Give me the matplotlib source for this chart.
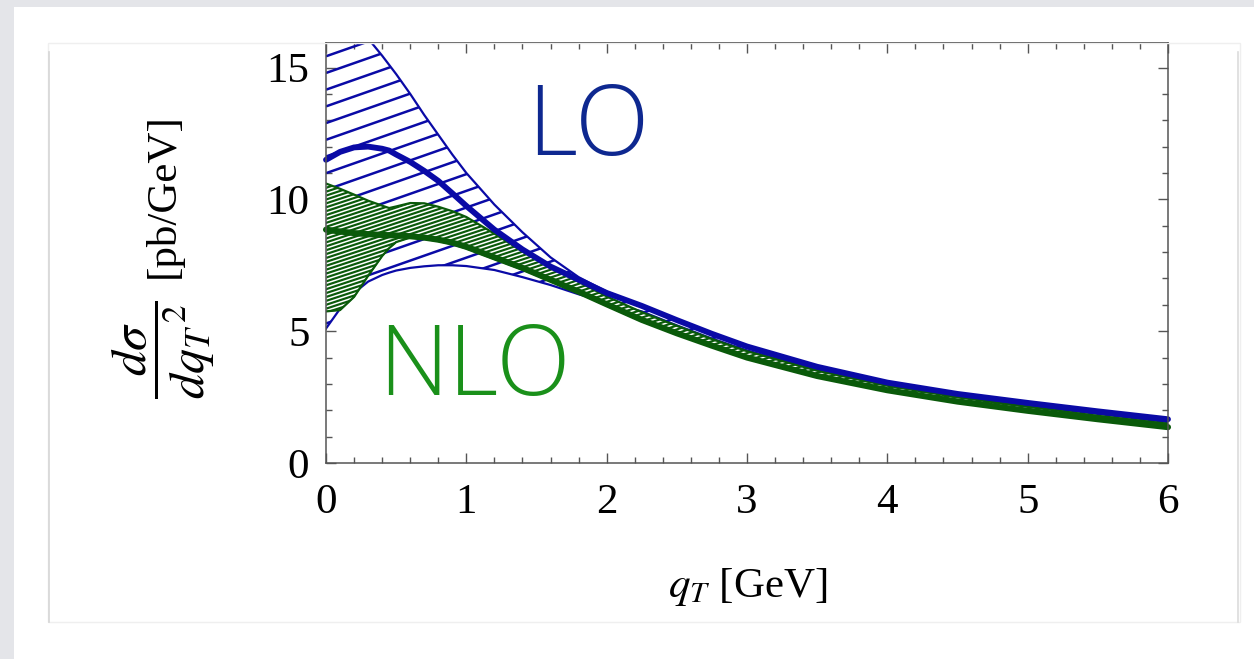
import numpy as np
import matplotlib
matplotlib.use("Agg")
import matplotlib.pyplot as plt
from matplotlib.patches import Polygon, Rectangle
from matplotlib.lines import Line2D
from matplotlib.collections import LineCollection
from matplotlib.ticker import MultipleLocator

# ---- data ----
qt = [0, 0.1, 0.2, 0.3, 0.4, 0.45, 0.5, 0.6, 0.7, 0.8, 0.9, 1.0, 1.2, 1.4,
      1.6, 1.8, 2.0, 2.25, 2.5, 2.75, 3.0, 3.5, 4.0, 4.5, 5.0, 5.5, 6.0]

lo_central = [11.5, 11.8, 11.97, 12.0, 11.92, 11.85, 11.7, 11.42, 11.08, 10.7,
              10.23, 9.75, 8.85, 8.1, 7.45, 6.95, 6.45, 5.96, 5.42, 4.9, 4.42,
              3.65, 3.05, 2.62, 2.28, 1.96, 1.66]
lo_upper = [17.6, 17.2, 16.7, 16.1, 15.45, 15.1, 14.75, 14.0, 13.2, 12.45,
            11.7, 11.0, 9.8, 8.75, 7.8, 7.05, 6.5, 5.98, 5.44, 4.92, 4.44,
            3.67, 3.07, 2.64, 2.3, 1.98, 1.68]
lo_lower = [5.1, 5.85, 6.45, 6.88, 7.13, 7.22, 7.3, 7.4, 7.46, 7.5, 7.5, 7.47,
            7.32, 7.05, 6.75, 6.4, 6.1, 5.75, 5.22, 4.72, 4.27, 3.55, 2.98,
            2.54, 2.18, 1.86, 1.55]

nlo_central = [8.85, 8.78, 8.72, 8.68, 8.65, 8.64, 8.63, 8.6, 8.55, 8.47, 8.36,
               8.2, 7.8, 7.4, 6.95, 6.5, 6.02, 5.43, 4.92, 4.45, 4.0, 3.3,
               2.76, 2.33, 1.98, 1.66, 1.36]
nlo_upper = [10.6, 10.4, 10.18, 9.95, 9.76, 9.67, 9.73, 9.86, 9.85, 9.72, 9.55,
             9.33, 8.7, 8.02, 7.42, 6.87, 6.32, 5.72, 5.2, 4.7, 4.24, 3.5,
             2.93, 2.49, 2.13, 1.79, 1.49]
nlo_lower = [5.75, 5.8, 6.3, 7.1, 7.85, 8.15, 8.38, 8.55, 8.5, 8.42, 8.3, 8.14,
             7.74, 7.34, 6.9, 6.45, 5.97, 5.38, 4.88, 4.41, 3.96, 3.27, 2.73,
             2.3, 1.95, 1.63, 1.33]

BLUE = "#0a0aa6"
DKGREEN = "#0a5a0a"
LO_TEXT = "#0e2890"
NLO_TEXT = "#1a901a"

plt.rcParams["font.family"] = ["Liberation Serif", "DejaVu Serif"]
plt.rcParams["mathtext.fontset"] = "stix"

W, H = 1254, 659
fig = plt.figure(figsize=(W / 100, H / 100), dpi=100)
fig.patch.set_facecolor("white")

# slide-like background
fig.add_artist(Rectangle((0, 1 - 7 / H), 1, 7 / H, transform=fig.transFigure,
                         facecolor="#e4e5e9", edgecolor="none"))
fig.add_artist(Rectangle((0, 0), 14 / W, 1, transform=fig.transFigure,
                         facecolor="#e4e5e9", edgecolor="none"))
fig.add_artist(Rectangle((48 / W, 1 - 622 / H), (1240 - 48) / W, (622 - 43) / H,
                         transform=fig.transFigure, facecolor="none",
                         edgecolor="#efefef", lw=1))
fig.add_artist(Line2D([49 / W, 49 / W], [1 - 52 / H, 1 - 622 / H],
                      transform=fig.transFigure, color="#d6d6d6", lw=1.2))
fig.add_artist(Line2D([1238 / W, 1238 / W], [1 - 52 / H, 1 - 622 / H],
                      transform=fig.transFigure, color="#dcdcdc", lw=1.2))

ax_l, ax_r, ax_t, ax_b = 326, 1168, 43, 463
ax = fig.add_axes([ax_l / W, 1 - ax_b / H, (ax_r - ax_l) / W, (ax_b - ax_t) / H])
ax.set_xlim(0, 6)
ax.set_ylim(0, 15.93)
axw, axh = ax_r - ax_l, ax_b - ax_t


def hatch_band(x, lo, hi, color, spacing_px, slope_px, lw, z, phase=0.0):
    verts = list(zip(x, hi)) + list(zip(x[::-1], lo[::-1]))
    clip = Polygon(verts, closed=True, transform=ax.transData,
                   facecolor="none", edgecolor="none")
    ax.add_patch(clip)
    s = slope_px * axw / axh
    d = spacing_px / axh
    segs = []
    b = -s - 1 + phase
    while b < 1.0 + d:
        segs.append([(0, b), (1, b + s)])
        b += d
    lc = LineCollection(segs, colors=color, linewidths=lw,
                        transform=ax.transAxes, zorder=z)
    lc.set_clip_path(clip)
    lc.set_clip_box(ax.bbox)
    ax.add_collection(lc)


# LO band: sparse sloping hatch
hatch_band(qt, lo_lower, lo_upper, BLUE, 16.7, 0.35, 1.8, 2, phase=0.006)
ax.plot(qt, lo_upper, color=BLUE, lw=1.6, zorder=3)
ax.plot(qt, lo_lower, color=BLUE, lw=1.6, zorder=3)

# NLO band: dark green with dense white stripes
ax.fill_between(qt, nlo_lower, nlo_upper, color=DKGREEN, lw=0, zorder=4)
hatch_band(qt, nlo_lower, nlo_upper, "white", 3.9, 0.33, 1.1, 5)
ax.plot(qt, nlo_upper, color=DKGREEN, lw=1.6, zorder=6)
ax.plot(qt, nlo_lower, color=DKGREEN, lw=1.6, zorder=6)
ax.plot(qt, nlo_central, color=DKGREEN, lw=4.4, zorder=7,
        solid_capstyle="round", clip_on=False)

ax.plot(qt, lo_central, color=BLUE, lw=4.2, zorder=8,
        solid_capstyle="round", clip_on=False)

# labels inside the plot
ax.text(1.43, 11.69, "LO", color=LO_TEXT, fontsize=70, family="Open Sans",
        fontweight="light", ha="left", va="baseline", zorder=9)
ax.text(0.37, 2.58, "NLO", color=NLO_TEXT, fontsize=70, family="Open Sans",
        fontweight="light", ha="left", va="baseline", zorder=9)

# axes styling
for sp in ax.spines.values():
    sp.set_color("#555555")
    sp.set_linewidth(1.1)
    sp.set_zorder(10)
ax.spines["top"].set_color("#222222")
ax.xaxis.set_major_locator(MultipleLocator(1))
ax.xaxis.set_minor_locator(MultipleLocator(0.2))
ax.yaxis.set_major_locator(MultipleLocator(5))
ax.yaxis.set_minor_locator(MultipleLocator(1))
ax.tick_params(which="both", direction="in", top=True, right=True,
               color="#555555", width=1.0, labelsize=31)
ax.tick_params(which="major", length=7)
ax.tick_params(which="minor", length=4.5)
ax.tick_params(axis="x", pad=15)
ax.tick_params(axis="y", pad=12)

# y label: fraction and unit set separately
fig.text(163 / W, 1 - 350 / H, r"$\dfrac{d\sigma}{d{q_T}^{\,2}}$",
         rotation=90, ha="center", va="center", fontsize=36)
fig.text(163 / W, 1 - 196 / H, "[pb/GeV]",
         rotation=90, ha="center", va="center", fontsize=31)
fig.text(748 / W, 1 - 597 / H, r"$q_T$ [GeV]", ha="center", va="baseline",
         fontsize=31)

fig.savefig("out.png", dpi=100, facecolor=fig.get_facecolor())
